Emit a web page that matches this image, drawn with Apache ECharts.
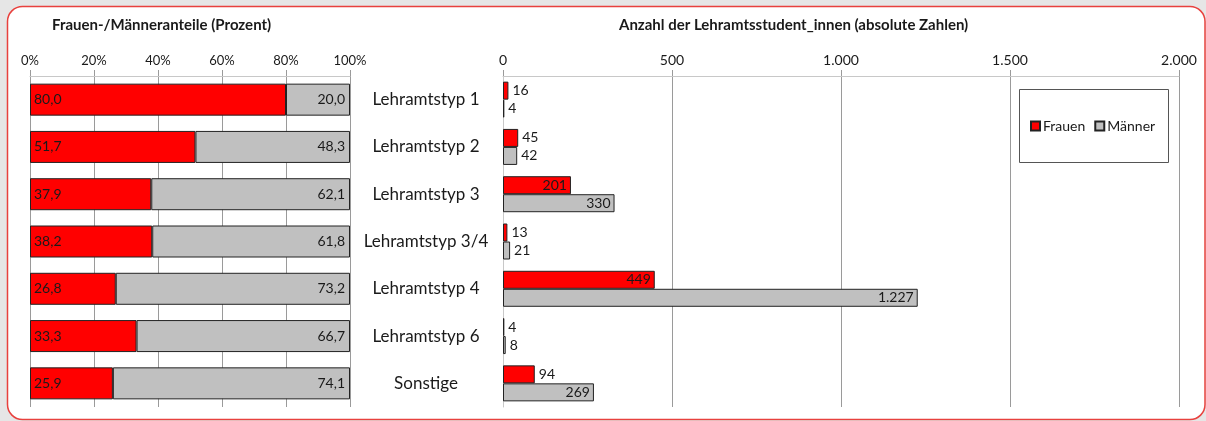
<!DOCTYPE html>
<html>
<head>
<meta charset="utf-8">
<script src="https://cdn.jsdelivr.net/npm/echarts@6/dist/echarts.min.js"></script>
<style>
  html, body { margin: 0; padding: 0; background: #e6e6e6; }
  #main { width: 1206px; height: 421px; }
</style>
</head>
<body>
<div id="main"></div>
<script>
// Kategorien und Werte
var categories = ['Lehramtstyp 1', 'Lehramtstyp 2', 'Lehramtstyp 3', 'Lehramtstyp 3/4', 'Lehramtstyp 4', 'Lehramtstyp 6', 'Sonstige']
var frauenProzent = [80.0, 51.7, 37.9, 38.2, 26.8, 33.3, 25.9]
var maennerProzent = [20.0, 48.3, 62.1, 61.8, 73.2, 66.7, 74.1]
var frauenAnzahl = [16, 45, 201, 13, 449, 4, 94]
var maennerAnzahl = [4, 42, 330, 21, 1227, 8, 269]
var prozentTicks = [0, 20, 40, 60, 80, 100]
var anzahlTicks = [0, 500, 1000, 1500, 2000]

var FONT = 'Lato'
var RED = '#ff0000'
var GREY = '#c0c0c0'

// deutsche Zahlenformate
function komma(v) { return v.toFixed(1).replace('.', ',') }
function tausender(v) { return String(v).replace(/\B(?=(\d{3})+(?!\d))/g, '.') }

// kleine Balken bekommen das Label rechts daneben, große innen am Ende
function absData(values) {
  return values.map(function (v) {
    return {
      value: v,
      label: { position: v >= 150 ? 'insideRight' : 'right' }
    }
  })
}

var myChart = echarts.init(document.getElementById('main'))

var option = {
  animation: false,
  textStyle: { fontFamily: FONT },
  graphic: [
    {
      type: 'rect',
      z: -10,
      shape: { x: 7.5, y: 6.5, width: 1197.5, height: 413, r: 15 },
      style: { fill: '#ffffff', stroke: '#e8413e', lineWidth: 1.5 }
    },
    {
      type: 'rect',
      z: 5,
      shape: { x: 1019.5, y: 89.5, width: 149, height: 73 },
      style: { fill: '#ffffff', stroke: '#555555', lineWidth: 1 }
    }
  ],
  title: [
    {
      text: 'Frauen-/Männeranteile (Prozent)',
      left: 47,
      top: 13,
      textStyle: { fontFamily: FONT, fontSize: 15, fontWeight: 'bold', color: '#1a1a1a' }
    },
    {
      text: 'Anzahl der Lehramtsstudent_innen (absolute Zahlen)',
      left: 614,
      top: 13,
      textStyle: { fontFamily: FONT, fontSize: 15, fontWeight: 'bold', color: '#1a1a1a' }
    }
  ],
  legend: {
    data: ['Frauen', 'Männer'],
    left: 1025,
    top: 114,
    z: 6,
    icon: 'rect',
    itemWidth: 9,
    itemHeight: 9,
    itemGap: 9,
    selectedMode: false,
    textStyle: { fontFamily: FONT, fontSize: 14, color: '#1a1a1a', padding: [0, 0, 0, -2] }
  },
  grid: [
    { left: 30, top: 76, width: 320, height: 331 },
    { left: 503, top: 76, width: 676, height: 331 }
  ],
  xAxis: [
    {
      gridIndex: 0,
      type: 'value',
      position: 'top',
      min: prozentTicks[0],
      max: prozentTicks[prozentTicks.length - 1],
      interval: 20,
      axisLine: { show: true, lineStyle: { color: '#c8c8c8' } },
      axisTick: { show: true, length: 6, lineStyle: { color: '#9a9a9a' } },
      splitLine: { show: true, lineStyle: { color: '#9a9a9a' } },
      axisLabel: { formatter: '{value}%', fontFamily: FONT, fontSize: 13, color: '#1a1a1a', margin: 9 }
    },
    {
      gridIndex: 1,
      type: 'value',
      position: 'top',
      min: anzahlTicks[0],
      max: anzahlTicks[anzahlTicks.length - 1],
      interval: 500,
      axisLine: { show: true, lineStyle: { color: '#c8c8c8' } },
      axisTick: { show: true, length: 6, lineStyle: { color: '#9a9a9a' } },
      splitLine: { show: true, lineStyle: { color: '#9a9a9a' } },
      axisLabel: { formatter: tausender, fontFamily: FONT, fontSize: 14, color: '#1a1a1a', margin: 9 }
    }
  ],
  yAxis: [
    {
      gridIndex: 0,
      type: 'category',
      inverse: true,
      data: categories,
      axisLine: { show: false },
      axisTick: { show: false },
      axisLabel: { show: false }
    },
    {
      gridIndex: 1,
      type: 'category',
      inverse: true,
      data: categories,
      axisLine: { show: true, lineStyle: { color: '#c8c8c8' } },
      axisTick: { show: false },
      axisLabel: { align: 'center', margin: 77, fontFamily: FONT, fontSize: 17, color: '#1a1a1a' }
    }
  ],
  series: [
    {
      name: 'Frauen',
      type: 'bar',
      stack: 'prozent',
      xAxisIndex: 0,
      yAxisIndex: 0,
      barWidth: 32,
      data: frauenProzent,
      itemStyle: { color: RED, borderColor: '#222', borderWidth: 1 },
      label: {
        show: true, position: 'insideLeft', distance: 4,
        fontFamily: FONT, fontSize: 14, color: '#1a1a1a',
        formatter: function (p) { return komma(p.value) }
      }
    },
    {
      name: 'Männer',
      type: 'bar',
      stack: 'prozent',
      xAxisIndex: 0,
      yAxisIndex: 0,
      barWidth: 32,
      data: maennerProzent,
      itemStyle: { color: GREY, borderColor: '#222', borderWidth: 1 },
      label: {
        show: true, position: 'insideRight', distance: 5,
        fontFamily: FONT, fontSize: 14, color: '#1a1a1a',
        formatter: function (p) { return komma(p.value) }
      }
    },
    {
      name: 'Frauen',
      type: 'bar',
      xAxisIndex: 1,
      yAxisIndex: 1,
      barWidth: 18,
      barGap: '0%',
      data: absData(frauenAnzahl),
      itemStyle: { color: RED, borderColor: '#222', borderWidth: 1 },
      label: {
        show: true, distance: 4,
        fontFamily: FONT, fontSize: 14, color: '#1a1a1a',
        formatter: function (p) { return tausender(p.value) }
      }
    },
    {
      name: 'Männer',
      type: 'bar',
      xAxisIndex: 1,
      yAxisIndex: 1,
      barWidth: 18,
      barGap: '0%',
      data: absData(maennerAnzahl),
      itemStyle: { color: GREY, borderColor: '#222', borderWidth: 1 },
      label: {
        show: true, distance: 4,
        fontFamily: FONT, fontSize: 14, color: '#1a1a1a',
        formatter: function (p) { return tausender(p.value) }
      }
    }
  ]
}

myChart.setOption(option)
</script>
</body>
</html>
